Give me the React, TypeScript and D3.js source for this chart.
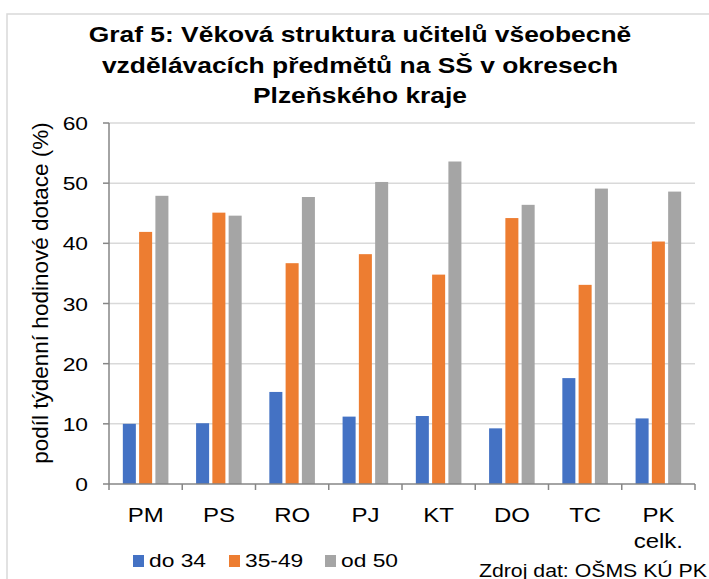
import React from "react";
import * as d3 from "d3";

const districts = ["PM", "PS", "RO", "PJ", "KT", "DO", "TC", "PK celk."];
const seriesNames = ["do 34", "35-49", "od 50"];
const colors = ["#4472C4", "#ED7D31", "#A5A5A5"];

const do34 = [10.0, 10.1, 15.3, 11.2, 11.3, 9.25, 17.6, 10.9];
const od35do49 = [41.9, 45.1, 36.7, 38.2, 34.8, 44.2, 33.1, 40.3];
const od50 = [47.9, 44.6, 47.7, 50.2, 53.6, 46.4, 49.1, 48.6];

const yTicks = [0, 10, 20, 30, 40, 50, 60];

const titleLines = [
  "Graf 5: Věková struktura učitelů všeobecně",
  "vzdělávacích předmětů na SŠ v okresech",
  "Plzeňského kraje",
];

// the reference text is a little wider than plain Arial
const SX = 1.2;

function Label({ x, y, size, anchor = "start", bold = false, sx = SX, children }: any) {
  return (
    <text
      transform={`translate(${x},${y}) scale(${sx},1)`}
      textAnchor={anchor}
      fontSize={size}
      fontWeight={bold ? "bold" : "normal"}
      fill="#000"
    >
      {children}
    </text>
  );
}

export default function App() {
  const W = 709;
  const H = 579;
  const plot = { left: 109, right: 695, top: 123, bottom: 484 };
  const font = "'Liberation Sans', Arial, sans-serif";

  const values = [do34, od35do49, od50];

  const x0 = d3.scaleBand<string>().domain(districts).range([plot.left, plot.right]);
  const x1 = d3
    .scaleBand<string>()
    .domain(seriesNames)
    .range([0, x0.bandwidth()])
    .paddingInner(0.2)
    .paddingOuter(0.85);
  const y = d3.scaleLinear().domain([0, 60]).range([plot.bottom, plot.top]);

  // boundaries between categories for x tick marks
  const xTickPos = districts.map((d) => x0(d)!).concat([plot.right]);

  const legendX = [133, 229, 325];

  return (
    <svg
      width={W}
      height={H}
      style={{ position: "absolute", left: 0, top: 0, background: "#fff" }}
      fontFamily={font}
    >
      {/* chart area border */}
      <rect x={7} y={14} width={W} height={H} fill="none" stroke="#d9d9d9" strokeWidth={1.5} />

      {/* title */}
      {titleLines.map((t, i) => (
        <Label key={i} x={360} y={42 + i * 30.5} size={22} anchor="middle" bold>
          {t}
        </Label>
      ))}

      {/* gridlines */}
      {yTicks.slice(1).map((t) => (
        <line
          key={t}
          x1={plot.left}
          x2={plot.right}
          y1={y(t)}
          y2={y(t)}
          stroke="#d9d9d9"
          strokeWidth={1.5}
        />
      ))}

      {/* bars */}
      {seriesNames.map((s, si) =>
        districts.map((d, di) => (
          <rect
            key={s + d}
            x={x0(d)! + x1(s)!}
            y={y(values[si][di])}
            width={x1.bandwidth()}
            height={y(0) - y(values[si][di])}
            fill={colors[si]}
          />
        ))
      )}

      {/* y axis */}
      <line x1={plot.left} x2={plot.left} y1={plot.top} y2={plot.bottom} stroke="#868686" strokeWidth={1.5} />
      {yTicks.map((t) => (
        <g key={t}>
          <line x1={plot.left - 6} x2={plot.left} y1={y(t)} y2={y(t)} stroke="#868686" strokeWidth={1.5} />
          <Label x={88} y={y(t) + 7} size={19} anchor="end">
            {t}
          </Label>
        </g>
      ))}

      {/* x axis */}
      <line x1={plot.left} x2={plot.right} y1={plot.bottom} y2={plot.bottom} stroke="#868686" strokeWidth={1.5} />
      {xTickPos.map((p, i) => (
        <line key={i} x1={p} x2={p} y1={plot.bottom} y2={plot.bottom + 6} stroke="#868686" strokeWidth={1.5} />
      ))}
      {districts.map((d) =>
        d.split(" ").map((p, i) => (
          <Label key={d + i} x={x0(d)! + x0.bandwidth() / 2} y={522 + i * 26} size={20} anchor="middle">
            {p}
          </Label>
        ))
      )}

      {/* y axis title */}
      <text
        transform={`translate(48,293) rotate(-90)`}
        textAnchor="middle"
        fontSize={22.5}
        fill="#000"
      >
        podíl týdenní hodinové dotace (%)
      </text>

      {/* legend */}
      {seriesNames.map((s, i) => (
        <g key={s}>
          <rect x={legendX[i]} y={555} width={11} height={12} fill={colors[i]} />
          <Label x={legendX[i] + 16} y={567} size={19}>
            {s}
          </Label>
        </g>
      ))}

      {/* source */}
      <Label x={707} y={577} size={18.5} anchor="end" sx={1.15}>
        Zdroj dat: OŠMS KÚ PK
      </Label>
    </svg>
  );
}
